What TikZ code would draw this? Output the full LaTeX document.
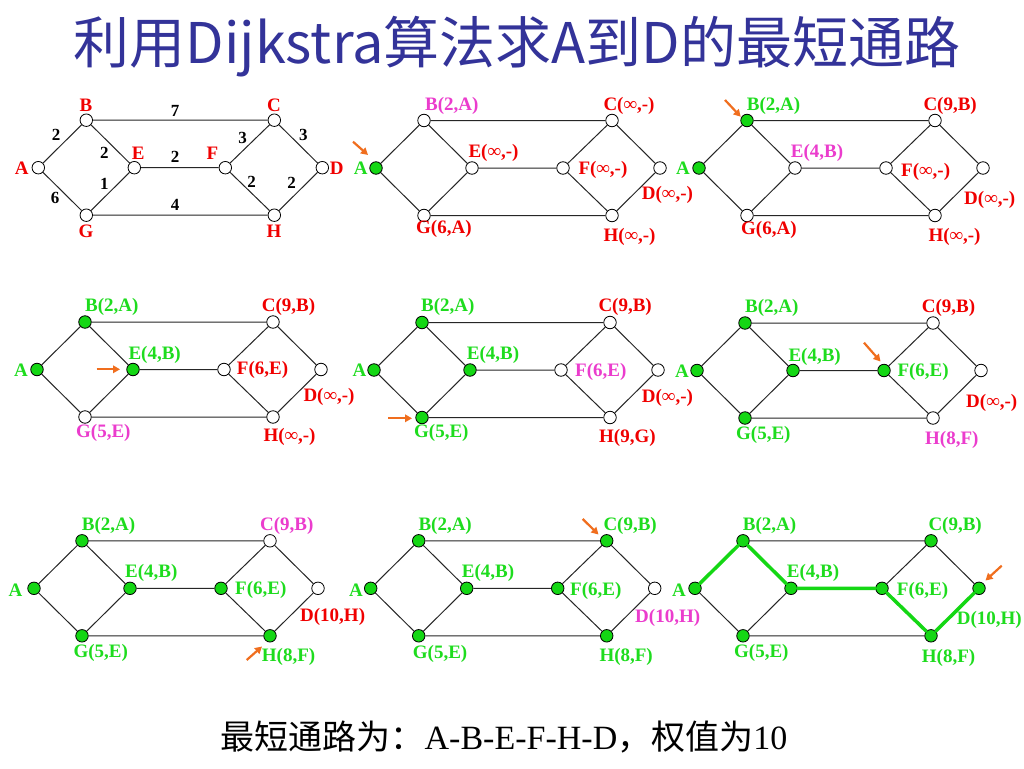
\documentclass[tikz,border=0pt]{standalone}
\usepackage{fontspec}
\setmainfont{Liberation Serif}
\newfontfamily\cjk{Noto Sans CJK SC}
\usetikzlibrary{arrows.meta}
\definecolor{ngreen}{RGB}{20,215,20}
\definecolor{tgreen}{RGB}{30,220,30}
\definecolor{tred}{RGB}{240,0,0}
\definecolor{tpink}{RGB}{235,60,205}
\definecolor{tblue}{RGB}{51,51,153}
\definecolor{torange}{RGB}{240,110,30}
\tikzset{
  vtx/.style={circle, draw=black, line width=0.8pt, minimum size=12.5pt, inner sep=0pt},
  edge/.style={draw=black!85, line width=1pt},
  lbl/.style={anchor=west, inner sep=0pt, font=\bfseries\fontsize{19}{19}\selectfont},
  clbl/.style={anchor=center, inner sep=0pt, font=\bfseries\fontsize{19}{19}\selectfont},
  wt/.style={anchor=center, inner sep=0pt, font=\bfseries\fontsize{17}{17}\selectfont, text=black},
  oarrow/.style={draw=torange, line width=2.2pt, -{Triangle[length=7pt,width=7.5pt]}},
  gpath/.style={draw=ngreen, line width=3.5pt, line cap=round}
}
\newcommand\gph[9]{%
 \node[vtx,fill=#2] (#1A) at (0,0) {};
 \node[vtx,fill=#3] (#1B) at (48,-47.5) {};
 \node[vtx,fill=#4] (#1C) at (236,-47.5) {};
 \node[vtx,fill=#5] (#1D) at (284,0) {};
 \node[vtx,fill=#6] (#1E) at (96,0) {};
 \node[vtx,fill=#7] (#1F) at (187,0) {};
 \node[vtx,fill=#8] (#1G) at (48,47.5) {};
 \node[vtx,fill=#9] (#1H) at (236,47.5) {};
 \draw[edge] (#1A)--(#1B) (#1A)--(#1G) (#1B)--(#1E) (#1G)--(#1E) (#1B)--(#1C)
   (#1G)--(#1H) (#1E)--(#1F) (#1F)--(#1C) (#1F)--(#1H) (#1C)--(#1D) (#1H)--(#1D);
}
\begin{document}
\begin{tikzpicture}[x=1pt,y=-1pt]
\fill[white] (0,0) rectangle (1024,768);
\useasboundingbox (0,0) rectangle (1024,768);

% title
\node[font=\cjk\fontsize{56}{56}\selectfont, text=tblue, inner sep=0pt] (title) at (517,47) {利用Dijkstra算法求A到D的最短通路};

% ---------- panel 1 ----------
\begin{scope}[shift={(38.3,167.7)}]\gph{p1}{white}{white}{white}{white}{white}{white}{white}{white}\end{scope}
\node[clbl,text=tred] (p1lA) at (21.7,168.3) {A};
\node[clbl,text=tred] (p1lB) at (86,105.7) {B};
\node[clbl,text=tred] (p1lC) at (274,105.7) {C};
\node[clbl,text=tred] (p1lD) at (336.7,168.3) {D};
\node[clbl,text=tred] (p1lE) at (138.3,153.3) {E};
\node[clbl,text=tred] (p1lF) at (212.3,153.3) {F};
\node[clbl,text=tred] (p1lG) at (86,231.7) {G};
\node[clbl,text=tred] (p1lH) at (274,231.7) {H};
\node[wt] (w1) at (175,111) {7};
\node[wt] (w2) at (56,135) {2};
\node[wt] (w3) at (104.3,153.3) {2};
\node[wt] (w4) at (175,156.7) {2};
\node[wt] (w5) at (242.7,138.3) {3};
\node[wt] (w6) at (303.3,135) {3};
\node[wt] (w7) at (104.3,184.3) {1};
\node[wt] (w8) at (55,198.3) {6};
\node[wt] (w9) at (175,205) {4};
\node[wt] (w10) at (251.7,181.7) {2};
\node[wt] (w11) at (291.7,183.3) {2};

% ---------- panel 2 ----------
\begin{scope}[shift={(376,168)}]\gph{p2}{ngreen}{white}{white}{white}{white}{white}{white}{white}\end{scope}
\node[clbl,text=tgreen] (p2lA) at (360.7,168.3) {A};
\node[lbl,text=tpink] (p2lB) at (425,105.7) {B(2,A)};
\node[lbl,text=tred] (p2lC) at (603.3,105.7) {C(∞,-)};
\node[lbl,text=tred] (p2lE) at (468.3,153.3) {E(∞,-)};
\node[lbl,text=tred] (p2lF) at (578.3,170) {F(∞,-)};
\node[lbl,text=tred] (p2lD) at (641.7,195) {D(∞,-)};
\node[lbl,text=tred] (p2lG) at (416,229) {G(6,A)};
\node[lbl,text=tred] (p2lH) at (603.3,236.7) {H(∞,-)};
\coordinate (a2s) at (353,141.7); \coordinate (a2e) at (368,155);
\draw[oarrow] (a2s)--(a2e);

% ---------- panel 3 ----------
\begin{scope}[shift={(699,168)}]\gph{p3}{ngreen}{ngreen}{white}{white}{white}{white}{white}{white}\end{scope}
\node[clbl,text=tgreen] (p3lA) at (683,168.3) {A};
\node[lbl,text=tgreen] (p3lB) at (746.7,105.7) {B(2,A)};
\node[lbl,text=tred] (p3lC) at (923.3,105.7) {C(9,B)};
\node[lbl,text=tpink] (p3lE) at (790.7,153.3) {E(4,B)};
\node[lbl,text=tred] (p3lF) at (901,172) {F(∞,-)};
\node[lbl,text=tred] (p3lD) at (964,200) {D(∞,-)};
\node[lbl,text=tred] (p3lG) at (741,230) {G(6,A)};
\node[lbl,text=tred] (p3lH) at (928.3,236.7) {H(∞,-)};
\coordinate (a3s) at (725,100); \coordinate (a3e) at (740.7,116.7);
\draw[oarrow] (a3s)--(a3e);

% ---------- panel 4 ----------
\begin{scope}[shift={(37,369.5)}]\gph{p4}{ngreen}{ngreen}{white}{white}{ngreen}{white}{white}{white}\end{scope}
\node[clbl,text=tgreen] (p4lA) at (21,370) {A};
\node[lbl,text=tgreen] (p4lB) at (85,306.7) {B(2,A)};
\node[lbl,text=tred] (p4lC) at (261.7,306.7) {C(9,B)};
\node[lbl,text=tgreen] (p4lE) at (128.3,355) {E(4,B)};
\node[lbl,text=tred] (p4lF) at (236.7,370) {F(6,E)};
\node[lbl,text=tred] (p4lD) at (303.3,396.7) {D(∞,-)};
\node[lbl,text=tpink] (p4lG) at (76,432.5) {G(5,E)};
\node[lbl,text=tred] (p4lH) at (263.3,436.5) {H(∞,-)};
\coordinate (a4s) at (96.7,369.3); \coordinate (a4e) at (120,369.3);
\draw[oarrow] (a4s)--(a4e);

% ---------- panel 5 ----------
\begin{scope}[shift={(374,370)}]\gph{p5}{ngreen}{ngreen}{white}{white}{ngreen}{white}{ngreen}{white}\end{scope}
\node[clbl,text=tgreen] (p5lA) at (359.5,370) {A};
\node[lbl,text=tgreen] (p5lB) at (421,306.7) {B(2,A)};
\node[lbl,text=tred] (p5lC) at (598.3,306.7) {C(9,B)};
\node[lbl,text=tgreen] (p5lE) at (466.7,355) {E(4,B)};
\node[lbl,text=tpink] (p5lF) at (575,371.7) {F(6,E)};
\node[lbl,text=tred] (p5lD) at (641.7,398.3) {D(∞,-)};
\node[lbl,text=tgreen] (p5lG) at (414,433) {G(5,E)};
\node[lbl,text=tred] (p5lH) at (599,438) {H(9,G)};
\coordinate (a5s) at (388.3,418.3); \coordinate (a5e) at (412,418.3);
\draw[oarrow] (a5s)--(a5e);

% ---------- panel 6 ----------
\begin{scope}[shift={(697,370.5)}]\gph{p6}{ngreen}{ngreen}{white}{white}{ngreen}{ngreen}{ngreen}{white}\end{scope}
\node[clbl,text=tgreen] (p6lA) at (682,371.7) {A};
\node[lbl,text=tgreen] (p6lB) at (745,308.3) {B(2,A)};
\node[lbl,text=tred] (p6lC) at (921.7,308.3) {C(9,B)};
\node[lbl,text=tgreen] (p6lE) at (788.3,356.7) {E(4,B)};
\node[lbl,text=tgreen] (p6lF) at (897.3,371.7) {F(6,E)};
\node[lbl,text=tred] (p6lD) at (966,403.3) {D(∞,-)};
\node[lbl,text=tgreen] (p6lG) at (736,435) {G(5,E)};
\node[lbl,text=tpink] (p6lH) at (925,440) {H(8,F)};
\coordinate (a6s) at (864,342.7); \coordinate (a6e) at (880.5,361.5);
\draw[oarrow] (a6s)--(a6e);

% ---------- panel 7 ----------
\begin{scope}[shift={(34,588.3)}]\gph{p7}{ngreen}{ngreen}{white}{white}{ngreen}{ngreen}{ngreen}{ngreen}\end{scope}
\node[clbl,text=tgreen] (p7lA) at (15.5,590) {A};
\node[lbl,text=tgreen] (p7lB) at (81.7,525.7) {B(2,A)};
\node[lbl,text=tpink] (p7lC) at (260,525.7) {C(9,B)};
\node[lbl,text=tgreen] (p7lE) at (125,573.3) {E(4,B)};
\node[lbl,text=tgreen] (p7lF) at (235,590) {F(6,E)};
\node[lbl,text=tred] (p7lD) at (300,616.7) {D(10,H)};
\node[lbl,text=tgreen] (p7lG) at (73.3,653.3) {G(5,E)};
\node[lbl,text=tgreen] (p7lH) at (261.7,656.7) {H(8,F)};
\coordinate (a7s) at (246.7,660); \coordinate (a7e) at (262,646.5);
\draw[oarrow] (a7s)--(a7e);

% ---------- panel 8 ----------
\begin{scope}[shift={(370.7,588.3)}]\gph{p8}{ngreen}{ngreen}{ngreen}{white}{ngreen}{ngreen}{ngreen}{ngreen}\end{scope}
\node[clbl,text=tgreen] (p8lA) at (356,590) {A};
\node[lbl,text=tgreen] (p8lB) at (418.3,525.7) {B(2,A)};
\node[lbl,text=tgreen] (p8lC) at (603.3,525.7) {C(9,B)};
\node[lbl,text=tgreen] (p8lE) at (461.7,573.3) {E(4,B)};
\node[lbl,text=tgreen] (p8lF) at (570,591) {F(6,E)};
\node[lbl,text=tpink] (p8lD) at (635,618.3) {D(10,H)};
\node[lbl,text=tgreen] (p8lG) at (412.7,654.3) {G(5,E)};
\node[lbl,text=tgreen] (p8lH) at (599.3,656.7) {H(8,F)};
\coordinate (a8s) at (582.7,519); \coordinate (a8e) at (598.5,534.5);
\draw[oarrow] (a8s)--(a8e);

% ---------- panel 9 ----------
\begin{scope}[shift={(695,588.3)}]\gph{p9}{ngreen}{ngreen}{ngreen}{ngreen}{ngreen}{ngreen}{ngreen}{ngreen}\end{scope}
\draw[gpath] (p9A)--(p9B)--(p9E)--(p9F)--(p9H)--(p9D);
\node[clbl,text=tgreen] (p9lA) at (679,590) {A};
\node[lbl,text=tgreen] (p9lB) at (742.7,525.7) {B(2,A)};
\node[lbl,text=tgreen] (p9lC) at (928.3,525.7) {C(9,B)};
\node[lbl,text=tgreen] (p9lE) at (786.7,573.3) {E(4,B)};
\node[lbl,text=tgreen] (p9lF) at (896.7,591) {F(6,E)};
\node[lbl,text=tgreen] (p9lD) at (956.7,620) {D(10,H)};
\node[lbl,text=tgreen] (p9lG) at (734,653.3) {G(5,E)};
\node[lbl,text=tgreen] (p9lH) at (921.7,657.7) {H(8,F)};
\coordinate (a9s) at (1001.7,565.7); \coordinate (a9e) at (985.5,580.5);
\draw[oarrow] (a9s)--(a9e);

% summary
\node[inner sep=0pt, font=\fontsize{34}{34}\selectfont, text=black] (summary) at (504,737)
  {{\cjk 最短通路为：}A-B-E-F-H-D{\cjk ，权值为}10};
\end{tikzpicture}
\end{document}
